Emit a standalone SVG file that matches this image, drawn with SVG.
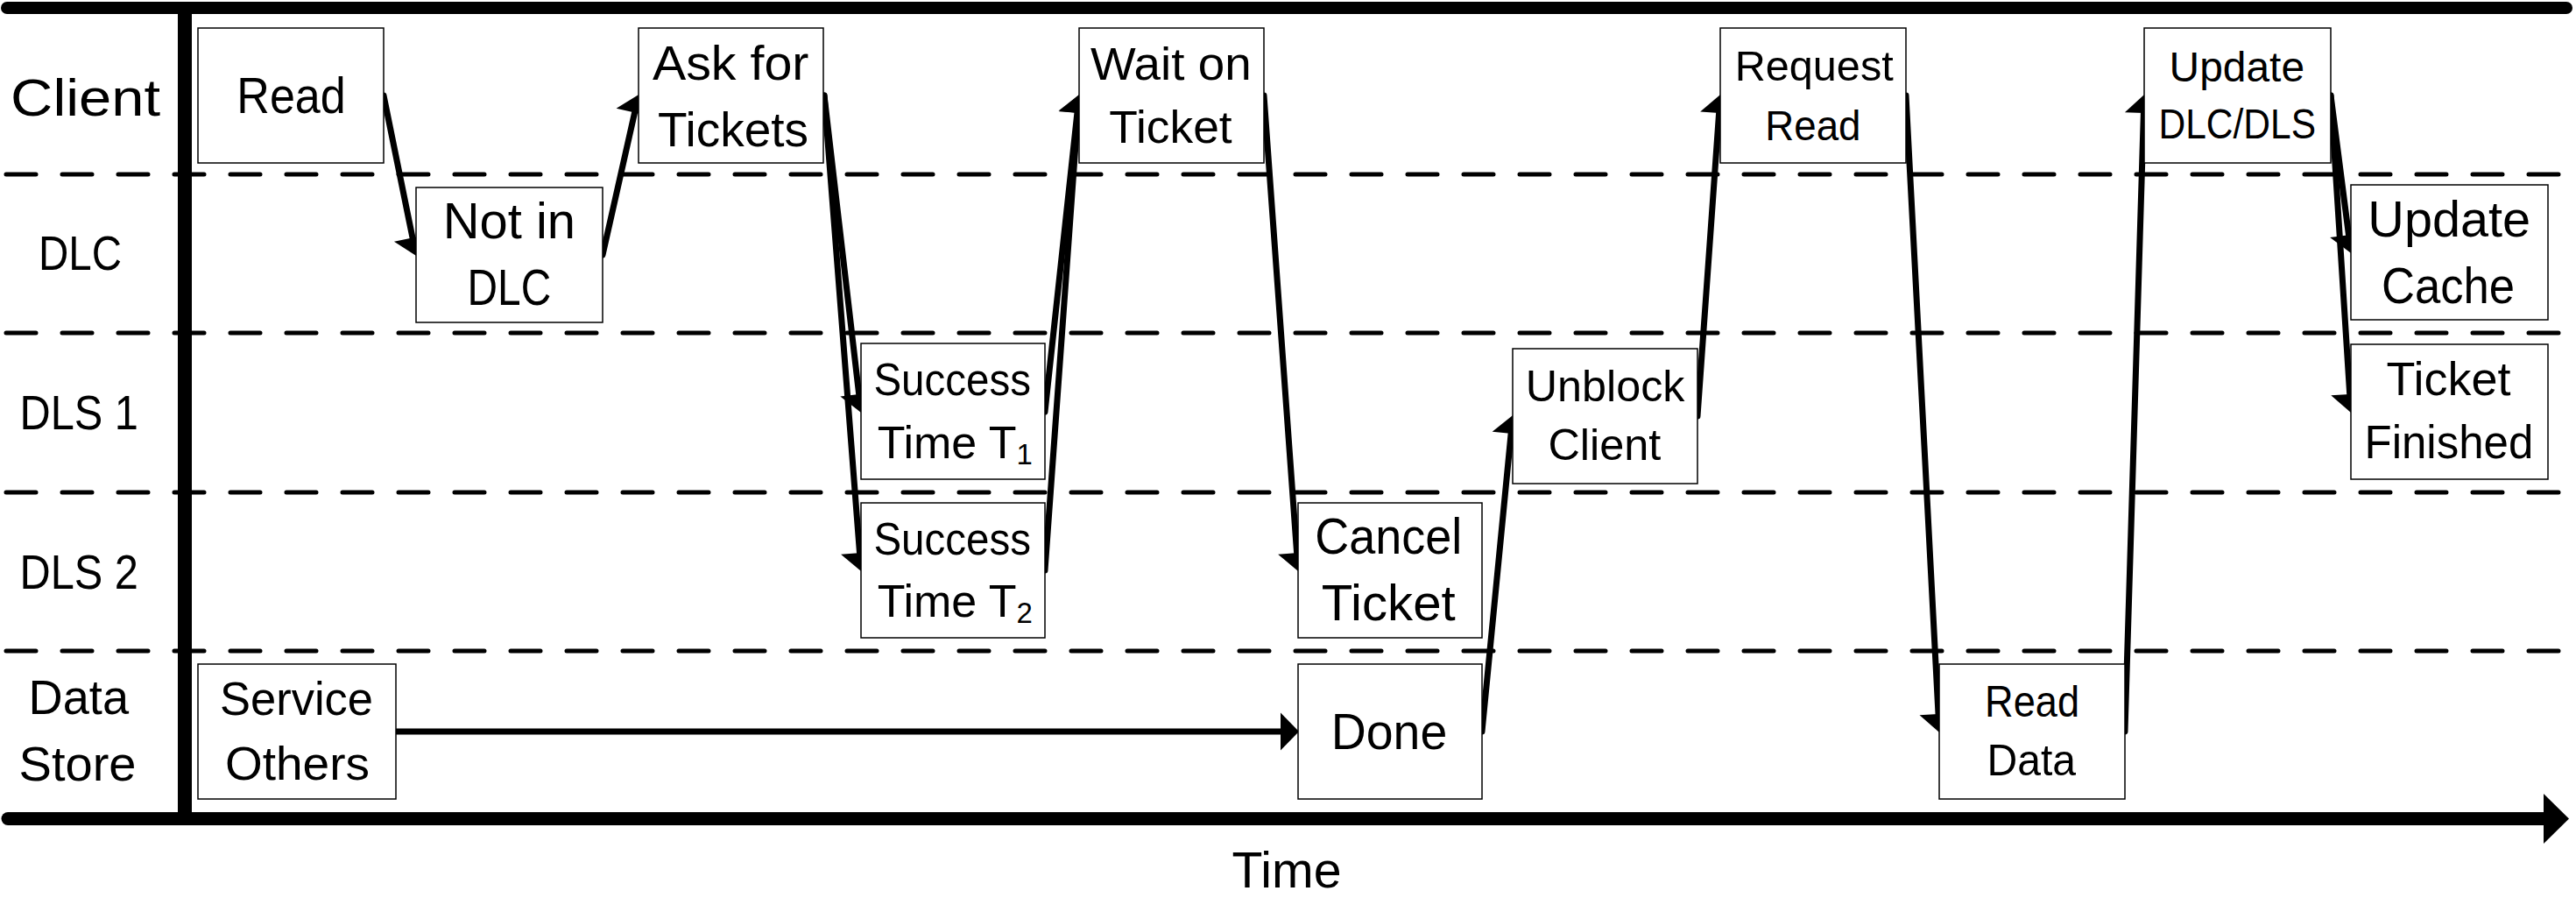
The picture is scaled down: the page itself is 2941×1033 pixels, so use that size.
<svg xmlns="http://www.w3.org/2000/svg" width="2941" height="1033" viewBox="0 0 2941 1033">
<style>
  .t{font-family:"Liberation Sans",Arial,sans-serif;fill:#000;text-anchor:middle}
  .box{fill:#fff;stroke:#000;stroke-width:1.5}
  .dash{stroke:#000;stroke-width:5;stroke-linecap:round;stroke-dasharray:34 30;fill:none}
  .bar{stroke:#000;fill:none}
  .c{stroke:#000;stroke-width:7;stroke-linecap:round;fill:none;marker-end:url(#ah)}
</style>
<defs>
  <marker id="ah" markerUnits="userSpaceOnUse" orient="auto" refX="0" refY="0" markerWidth="21" markerHeight="43" overflow="visible">
    <path d="M0,-21.5 L21,0 L0,21.5 z" fill="#000"/>
  </marker>
</defs>
<rect width="2941" height="1033" fill="#fff"/>

<g id="lanes">
  <line class="dash" x1="7" y1="199" x2="2933" y2="199"/>
  <line class="dash" x1="7" y1="380" x2="2933" y2="380"/>
  <line class="dash" x1="7" y1="562" x2="2933" y2="562"/>
  <line class="dash" x1="7" y1="743" x2="2933" y2="743"/>
  <line class="bar" x1="211" y1="9" x2="211" y2="934" stroke-width="16"/>
  <line class="bar" x1="8" y1="9" x2="2930" y2="9" stroke-width="14" stroke-linecap="round"/>
  <line class="bar" x1="9" y1="934.5" x2="2905" y2="934.5" stroke-width="15" stroke-linecap="round"/>
  <polygon points="2904,906 2933,934.5 2904,963" fill="#000"/>
  <text class="t" x="97.6" y="132" font-size="60" textLength="171" lengthAdjust="spacingAndGlyphs">Client</text>
  <text class="t" x="91.5" y="308" font-size="55" textLength="95" lengthAdjust="spacingAndGlyphs">DLC</text>
  <text class="t" x="90.2" y="490" font-size="56" textLength="135.5" lengthAdjust="spacingAndGlyphs">DLS 1</text>
  <text class="t" x="90.2" y="672" font-size="56" textLength="135.5" lengthAdjust="spacingAndGlyphs">DLS 2</text>
  <text class="t" x="89.8" y="815" font-size="56" textLength="114.5" lengthAdjust="spacingAndGlyphs">Data</text>
  <text class="t" x="88.5" y="891" font-size="56" textLength="134" lengthAdjust="spacingAndGlyphs">Store</text>
  <text class="t" x="1469" y="1013" font-size="57" textLength="125" lengthAdjust="spacingAndGlyphs">Time</text>
</g>

<g id="connectors">
  <path class="c" d="M438,109 L471,271.4"/>
  <path class="c" d="M688,291 L724.6,128.5"/>
  <path class="c" d="M941,109 L980.7,450.1"/>
  <path class="c" d="M941,109 L981.5,631.1"/>
  <path class="c" d="M1193,470 L1229.9,128.9"/>
  <path class="c" d="M1193,651 L1230.6,128.9"/>
  <path class="c" d="M1443,109 L1480.6,631.1"/>
  <path class="c" d="M453,835 L1462,835"/>
  <path class="c" d="M1692,835 L1725.1,494.9"/>
  <path class="c" d="M1938,475 L1962.6,129"/>
  <path class="c" d="M2176,109 L2213,815"/>
  <path class="c" d="M2426,835 L2447.4,129"/>
  <path class="c" d="M2661,109 L2681.5,268.2"/>
  <path class="c" d="M2661,109 L2682.7,450"/>
</g>

<g id="node-read">
  <rect class="box" x="226" y="32" width="212" height="154"/>
  <text class="t" x="332.5" y="129" font-size="57" textLength="124.4" lengthAdjust="spacingAndGlyphs">Read</text>
</g>
<g id="node-not-in-dlc">
  <rect class="box" x="475" y="214" width="213" height="154"/>
  <text class="t" x="581.4" y="272" font-size="57" textLength="151.2" lengthAdjust="spacingAndGlyphs">Not in</text>
  <text class="t" x="581.4" y="348" font-size="57" textLength="95.7" lengthAdjust="spacingAndGlyphs">DLC</text>
</g>
<g id="node-ask-for-tickets">
  <rect class="box" x="729" y="32" width="211" height="154"/>
  <text class="t" x="834.2" y="91" font-size="56" textLength="178.6" lengthAdjust="spacingAndGlyphs">Ask for</text>
  <text class="t" x="837" y="167" font-size="56" textLength="172" lengthAdjust="spacingAndGlyphs">Tickets</text>
</g>
<g id="node-wait-on-ticket">
  <rect class="box" x="1232" y="32" width="211" height="154"/>
  <text class="t" x="1336.8" y="91" font-size="51" textLength="183.7" lengthAdjust="spacingAndGlyphs">Wait on</text>
  <text class="t" x="1336.5" y="163" font-size="51" textLength="140.3" lengthAdjust="spacingAndGlyphs">Ticket</text>
</g>
<g id="node-success-t1">
  <rect class="box" x="983" y="392" width="210" height="155"/>
  <text class="t" x="1087.2" y="451" font-size="52" textLength="179.6" lengthAdjust="spacingAndGlyphs">Success</text>
  <text class="t" x="1090.3" y="523" font-size="52">Time T<tspan font-size="33" dy="7">1</tspan></text>
</g>
<g id="node-success-t2">
  <rect class="box" x="983" y="574" width="210" height="154"/>
  <text class="t" x="1087.2" y="633" font-size="52" textLength="179.6" lengthAdjust="spacingAndGlyphs">Success</text>
  <text class="t" x="1090.3" y="704" font-size="52">Time T<tspan font-size="33" dy="7">2</tspan></text>
</g>
<g id="node-cancel-ticket">
  <rect class="box" x="1482" y="574" width="210" height="154"/>
  <text class="t" x="1585.2" y="632" font-size="57" textLength="168" lengthAdjust="spacingAndGlyphs">Cancel</text>
  <text class="t" x="1585.2" y="708" font-size="57" textLength="153" lengthAdjust="spacingAndGlyphs">Ticket</text>
</g>
<g id="node-done">
  <rect class="box" x="1482" y="758" width="210" height="154"/>
  <text class="t" x="1586" y="855" font-size="58" textLength="132.5" lengthAdjust="spacingAndGlyphs">Done</text>
</g>
<g id="node-service-others">
  <rect class="box" x="226" y="758" width="226" height="154"/>
  <text class="t" x="338.5" y="816" font-size="53" textLength="175" lengthAdjust="spacingAndGlyphs">Service</text>
  <text class="t" x="339.5" y="890" font-size="53" textLength="165" lengthAdjust="spacingAndGlyphs">Others</text>
</g>
<g id="node-unblock-client">
  <rect class="box" x="1727" y="398" width="211" height="154"/>
  <text class="t" x="1832.6" y="458" font-size="50" textLength="181.7" lengthAdjust="spacingAndGlyphs">Unblock</text>
  <text class="t" x="1831.9" y="525" font-size="50" textLength="129" lengthAdjust="spacingAndGlyphs">Client</text>
</g>
<g id="node-request-read">
  <rect class="box" x="1964" y="32" width="212" height="154"/>
  <text class="t" x="2071.2" y="92" font-size="49" textLength="181" lengthAdjust="spacingAndGlyphs">Request</text>
  <text class="t" x="2069.9" y="160" font-size="49" textLength="109.2" lengthAdjust="spacingAndGlyphs">Read</text>
</g>
<g id="node-read-data">
  <rect class="box" x="2214" y="758" width="212" height="154"/>
  <text class="t" x="2320" y="818" font-size="50" textLength="108" lengthAdjust="spacingAndGlyphs">Read</text>
  <text class="t" x="2319.3" y="885" font-size="50" textLength="101.6" lengthAdjust="spacingAndGlyphs">Data</text>
</g>
<g id="node-update-dlc-dls">
  <rect class="box" x="2448" y="32" width="213" height="154"/>
  <text class="t" x="2553.8" y="93" font-size="48" textLength="154.5" lengthAdjust="spacingAndGlyphs">Update</text>
  <text class="t" x="2554.3" y="158" font-size="48" textLength="179.5" lengthAdjust="spacingAndGlyphs">DLC/DLS</text>
</g>
<g id="node-update-cache">
  <rect class="box" x="2684" y="211" width="225" height="154"/>
  <text class="t" x="2796.2" y="270" font-size="57" textLength="185.7" lengthAdjust="spacingAndGlyphs">Update</text>
  <text class="t" x="2795" y="346" font-size="57" textLength="152" lengthAdjust="spacingAndGlyphs">Cache</text>
</g>
<g id="node-ticket-finished">
  <rect class="box" x="2684" y="393" width="225" height="154"/>
  <text class="t" x="2795.5" y="451" font-size="53" textLength="141.8" lengthAdjust="spacingAndGlyphs">Ticket</text>
  <text class="t" x="2795.9" y="523" font-size="53" textLength="192.8" lengthAdjust="spacingAndGlyphs">Finished</text>
</g>
</svg>
